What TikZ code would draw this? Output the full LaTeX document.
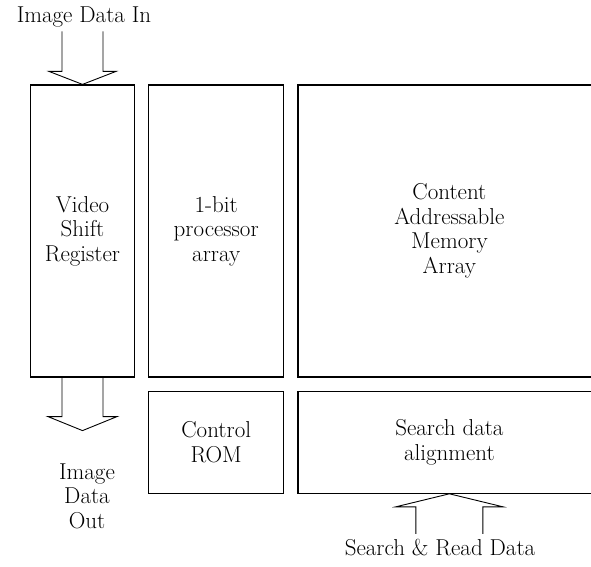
\documentclass[tikz,border=0pt]{standalone}
\usetikzlibrary{positioning}

\begin{document}
\begin{tikzpicture}[
    x=1pt, y=1pt,
    block/.style={draw, line width=1.2pt, align=center, inner sep=0pt},
    tall/.style={block, minimum height=292pt},
    short/.style={block, minimum height=102pt},
    hollow/.style={line width=0.9pt, line join=miter},
    font=\fontsize{23}{24.5}\selectfont,
    node distance=13pt
  ]
    \useasboundingbox (0,0) rectangle (591,566);
    \node[tall, minimum width=104pt] (vsr) at (82.5,335) {Video\\Shift\\Register};
    \node[tall, minimum width=135pt, right=of vsr] (proc) {1-bit\\processor\\array};
    \node[tall, minimum width=303pt, right=of proc] (cam) {Content\\Addressable\\Memory\\Array};
    \node[short, minimum width=135pt, below=of proc] (rom) {Control\\ROM};
    \node[short, minimum width=303pt, below=of cam] (align) {Search data\\alignment};
    \node[align=center] (imgin) at (84,549) {Image Data In};
    \node[align=center] (imgout) at (87,70) {Image\\Data\\Out};
    \node[align=center] (srdata) at (440,18) {Search \& Read Data};
    \draw[hollow] (vsr.north) ++(-20.5,53) -- ++(0,-40) -- ++(-13,0) -- (vsr.north)
      -- ++(33.5,13) -- ++(-13,0) -- ++(0,40);
    \draw[hollow] (vsr.south) ++(-20.5,0) -- ++(0,-39) -- ++(-14,0) -- ++(34.5,-14)
      -- ++(34.5,14) -- ++(-14,0) -- ++(0,39);
    \draw[hollow] (align.south) ++(-33.5,-40) -- ++(0,27) -- ++(-20,0) -- (align.south)
      -- ++(53.5,-13) -- ++(-20,0) -- ++(0,-27);
  \end{tikzpicture}
\end{document}
